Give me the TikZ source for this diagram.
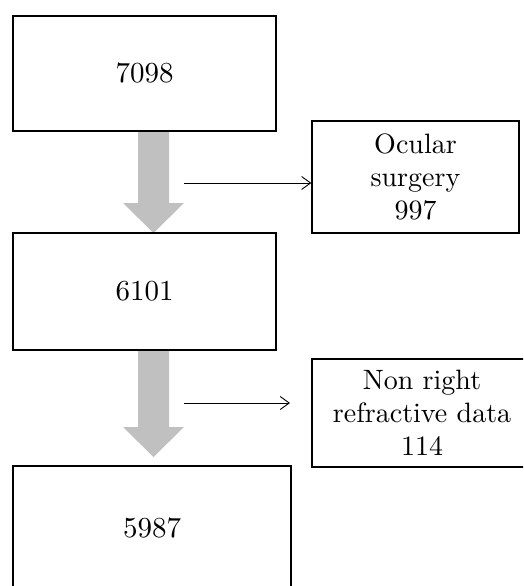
\documentclass[tikz,border=0pt]{standalone}
\usepackage{fontspec}
\setmainfont{lmroman10-regular.otf}
\usetikzlibrary{arrows.meta,calc}
\definecolor{arrowgray}{RGB}{192,192,192}
\tikzset{
  mainbox/.style={draw, line width=1.3pt, rectangle, align=center, inner sep=0pt, font=\fontsize{29}{33}\selectfont},
  sidebox/.style={draw, line width=1.3pt, rectangle, align=center, inner sep=0pt, font=\fontsize{28}{33}\selectfont},
  thinarrow/.style={line width=0.9pt, -{Straight Barb[length=9pt,width=13pt,line width=0.9pt]}},
  blockfill/.style={fill=arrowgray}
}
\begin{document}
\begin{tikzpicture}[x=1pt,y=-1pt]
\useasboundingbox (0,0) rectangle (523,586);
\clip (0,0) rectangle (523,586);
% coordinates of block arrows (from box geometry)
\coordinate (a1top) at (153.5,131);
\coordinate (a1tip) at (153.5,233);
\coordinate (a2top) at (153.5,350);
\coordinate (a2tip) at (153.5,457);
\fill[blockfill] ($(a1top)+(-15.5,0)$) -- ($(a1top)+(15.5,0)$) -- ($(a1tip)+(15.5,-30)$) -- ($(a1tip)+(30.5,-30)$) -- (a1tip) -- ($(a1tip)+(-30.5,-30)$) -- ($(a1tip)+(-15.5,-30)$) -- cycle;
\fill[blockfill] ($(a2top)+(-15.5,0)$) -- ($(a2top)+(15.5,0)$) -- ($(a2tip)+(15.5,-30)$) -- ($(a2tip)+(30.5,-30)$) -- (a2tip) -- ($(a2tip)+(-30.5,-30)$) -- ($(a2tip)+(-15.5,-30)$) -- cycle;
\node[mainbox, minimum width=263pt, minimum height=115pt] (n1) at (144.5,73.5) {7098};
\node[mainbox, minimum width=263pt, minimum height=117pt] (n2) at (144.5,291.5) {6101};
\node[mainbox, minimum width=278pt, minimum height=124pt] (n3) at (152,528) {5987};
\node[sidebox, minimum width=207pt, minimum height=112pt] (e1) at (415.5,177) {Ocular\\surgery\\997};
\node[sidebox, minimum width=220pt, minimum height=108pt] (e2) at (422,413) {Non right\\refractive data\\114};
% thin arrows
\coordinate (t1) at (184,183);
\draw[thinarrow] (t1) -- (t1 -| e1.west);
\coordinate (t2) at (184,403);
\coordinate (t2end) at (290,403);
\draw[thinarrow] (t2) -- (t2end);
\end{tikzpicture}
\end{document}
